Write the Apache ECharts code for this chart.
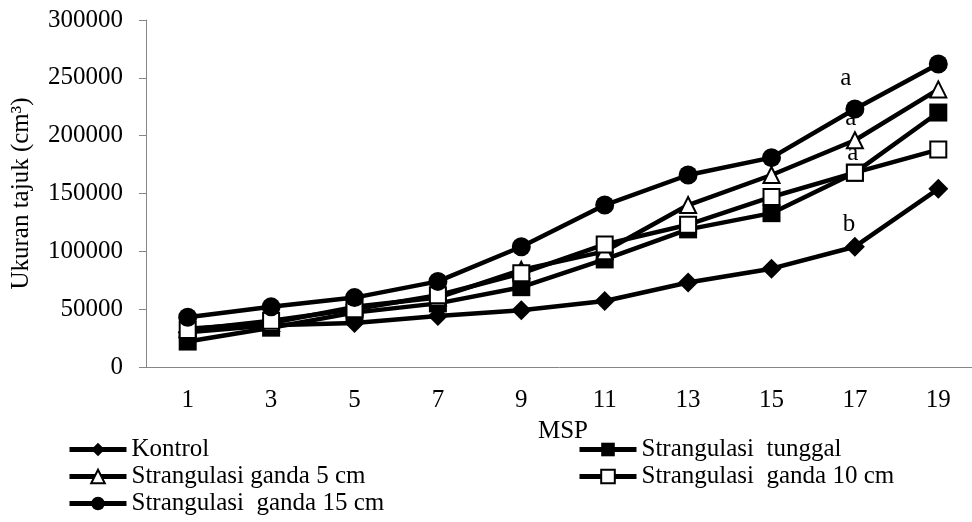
<!DOCTYPE html>
<html>
<head>
<meta charset="utf-8">
<script src="https://cdn.jsdelivr.net/npm/echarts@6/dist/echarts.min.js"></script>
<style>
    html, body { margin: 0; padding: 0; background: #fff; }
    #chart { width: 972px; height: 522px; }
</style>
</head>
<body>
<div id="chart"></div>
<script>
// umur tanaman (minggu setelah perlakuan)
const categories = ['1', '3', '5', '7', '9', '11', '13', '15', '17', '19'];

// ukuran tajuk (cm3)
const kontrol = [30000, 36000, 38000, 44000, 49000, 57000, 73000, 85000, 104000, 154000];
const tunggal = [22000, 34000, 47000, 55000, 69000, 93000, 119000, 133000, 168000, 220000];
const ganda5 = [33000, 38000, 52000, 60000, 84000, 100000, 140000, 166000, 196000, 240000];
const ganda10 = [32000, 40000, 50000, 62000, 81000, 106000, 123000, 147000, 168000, 188000];
const ganda15 = [43000, 52000, 60000, 74000, 104000, 140000, 166000, 181000, 223000, 262000];

const seriesNames = [
    'Kontrol',
    'Strangulasi  tunggal',
    'Strangulasi ganda 5 cm',
    'Strangulasi  ganda 10 cm',
    'Strangulasi  ganda 15 cm'
];

// huruf uji lanjut pada MSP 17
const letterIndex = 8;
const letters = ['b', 'a', 'a', '', 'a'];

const FONT = '"Liberation Serif", "Times New Roman", serif';
const AXIS_COLOR = '#868686';

const markers = [
    { symbol: 'diamond', size: 20, fill: '#000' },
    { symbol: 'rect', size: 18, fill: '#000' },
    { symbol: 'triangle', size: 16, fill: '#fff' },
    { symbol: 'rect', size: 16, fill: '#fff' },
    { symbol: 'circle', size: 19, fill: '#000' }
];
// posisi huruf relatif terhadap titik
const letterOffset = [
    [-6, -22],
    [-2, -19],
    [-4, -22],
    [0, 0],
    [-9, -31]
];

function buildSeries(name, values, idx) {
    const m = markers[idx];
    return {
        name: name,
        type: 'line',
        symbol: m.symbol,
        symbolSize: m.size,
        showAllSymbol: true,
        lineStyle: { color: '#000', width: 4.5 },
        itemStyle: {
            color: m.fill,
            borderColor: '#000',
            borderWidth: m.fill === '#fff' ? 2 : 0
        },
        data: values.map((v, i) => {
            if (i === letterIndex && letters[idx]) {
                return {
                    value: v,
                    label: {
                        show: true,
                        formatter: letters[idx],
                        position: 'inside',
                        offset: letterOffset[idx],
                        color: '#000',
                        fontFamily: FONT,
                        fontSize: 25
                    }
                };
            }
            return v;
        }),
        animation: false
    };
}

const legendText = {
    color: '#000',
    fontFamily: FONT,
    fontSize: 25,
    lineHeight: 25
};

function buildLegend(left, names) {
    return {
        orient: 'vertical',
        left: left,
        top: 437,
        itemWidth: 57,
        itemHeight: 17,
        itemGap: 2,
        padding: 0,
        lineStyle: { width: 5, color: '#000' },
        textStyle: legendText,
        data: names
    };
}

const option = {
    backgroundColor: '#fff',
    grid: {
        left: 146,
        top: 20,
        width: 834,
        bottom: 155,
        containLabel: false,
        outerBoundsMode: 'none'
    },
    legend: [
        buildLegend(67, [seriesNames[0], seriesNames[2], seriesNames[4]]),
        buildLegend(577, [seriesNames[1], seriesNames[3]])
    ],
    xAxis: {
        type: 'category',
        data: categories,
        boundaryGap: true,
        name: 'MSP',
        nameLocation: 'middle',
        nameGap: 52,
        nameTextStyle: { color: '#000', fontFamily: FONT, fontSize: 25 },
        axisLine: { lineStyle: { color: AXIS_COLOR, width: 1 } },
        axisTick: {
            alignWithLabel: true,
            inside: true,
            length: 5,
            lineStyle: { color: AXIS_COLOR }
        },
        axisLabel: {
            color: '#000',
            fontFamily: FONT,
            fontSize: 25,
            margin: 21
        }
    },
    yAxis: {
        type: 'value',
        min: 0,
        max: 300000,
        interval: 50000,
        name: 'Ukuran tajuk (cm³)',
        nameLocation: 'middle',
        nameGap: 112,
        nameRotate: 90,
        nameTextStyle: { color: '#000', fontFamily: FONT, fontSize: 25 },
        axisLine: { show: true, lineStyle: { color: AXIS_COLOR, width: 1 } },
        axisTick: { show: true, length: 7, lineStyle: { color: AXIS_COLOR } },
        splitLine: { show: false },
        axisLabel: {
            color: '#000',
            fontFamily: FONT,
            fontSize: 25,
            margin: 23,
            formatter: value => String(value)
        }
    },
    series: [
        buildSeries(seriesNames[0], kontrol, 0),
        buildSeries(seriesNames[1], tunggal, 1),
        buildSeries(seriesNames[2], ganda5, 2),
        buildSeries(seriesNames[3], ganda10, 3),
        buildSeries(seriesNames[4], ganda15, 4)
    ]
};

const chart = echarts.init(document.getElementById('chart'), null, { renderer: 'canvas' });
chart.setOption(option);
</script>
</body>
</html>
